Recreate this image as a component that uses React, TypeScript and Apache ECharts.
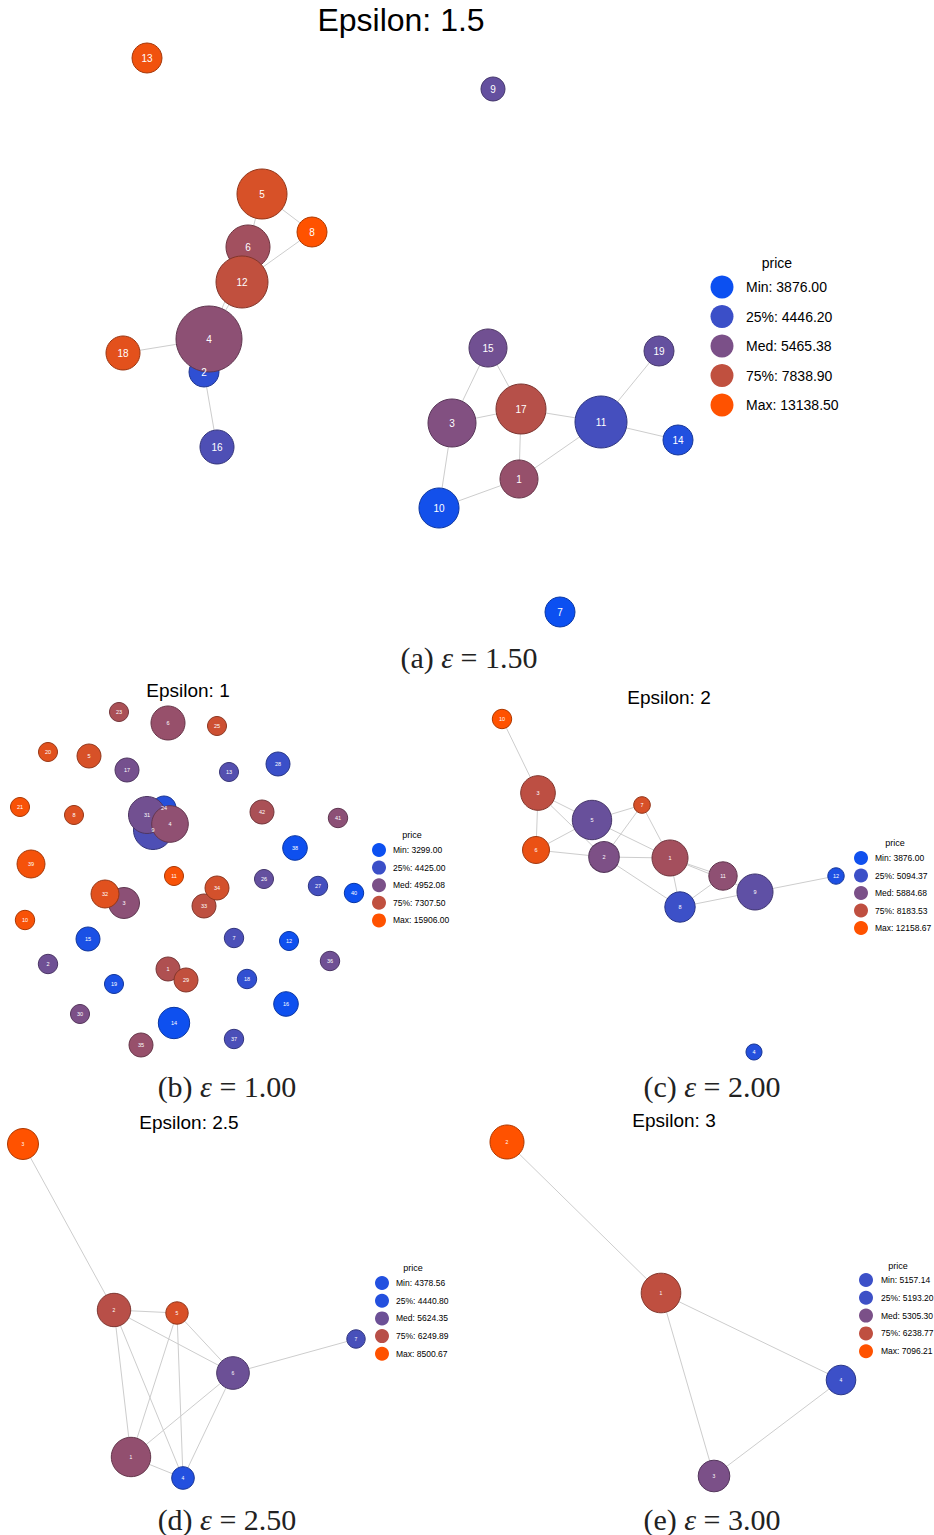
import React, { useEffect, useRef } from "react";
import * as echarts from "echarts";

const quantileNames = ["Min", "25%", "Med", "75%", "Max"];

// (a) epsilon 1.5
const aNodes = ["13","9","5","8","6","12","18","2","16","4","15","19","3","17","11","14","1","10","7"];
const aX = [147,493,262,312,248,242,123,204,217,209,488,659,452,521,601,678,519,439,560];
const aY = [58,89,194,232,247,282,353,372,447,339,348,351,423,409,422,440,479,508,612];
const aCount = [15,12,25,15,22,26,17,15,17,33,19,15,24,25,26,15,19,20,15];
const aPrice = [12000,5100,9800,13138.5,6800,7900,10800,4300,4750,6100,5300,5100,5700,7500,4600,4130,6400,3960,3876];
const aEdges = [["5","8"],["5","6"],["8","12"],["6","4"],["12","4"],["18","4"],["4","2"],["2","16"],["15","3"],["15","17"],["3","17"],["3","10"],["10","1"],["17","1"],["1","11"],["17","11"],["11","19"],["11","14"]];
const aQuant = [3876.0, 4446.2, 5465.38, 7838.9, 13138.5];

// (b) epsilon 1.0
const bNodes = ["23","6","25","20","5","17","13","28","21","8","9","24","31","4","42","41","38","39","11","26","27","40","3","32","33","34","10","15","7","12","2","36","1","29","19","18","16","30","14","37","35"];
const bX = [119,168,217,48,89,127,229,278,20,74,153,164,147,170,262,338,295,31,174,264,318,354,124,105,204,217,25,88,234,289,48,330,168,186,114,247,286,80,174,234,141];
const bY = [42,53,56,82,86,100,102,94,137,145,160,138,145,154,142,148,178,194,206,209,216,223,233,224,236,218,250,269,268,271,294,291,299,310,314,309,334,344,353,369,375];
const bCount = [9.5,17,9.5,9.5,12,12,9.5,12,9.5,9.5,19.5,12,18.5,18.3,12,9.7,12.3,14,9.5,9.5,9.7,9.7,15.5,14,12,12,9.7,12,9.7,9.5,9.7,9.7,12,12,9.5,9.7,12.3,9.5,15.7,9.7,12];
const bPrice = [6550,5900,9030,11800,10500,4900,4635,4400,15000,11200,4580,3920,4880,5660,6550,5540,3350,14500,15000,4760,4500,3299,5540,11800,7250,9900,15000,3640,4560,3350,4850,4850,6720,7500,3640,4180,3350,5000,3350,4560,5900];
const bEdges: string[][] = [];
const bQuant = [3299.0, 4425.0, 4952.08, 7307.5, 15906.0];

// (c) epsilon 2.0
const cNodes = ["10","3","7","5","6","2","1","11","9","8","12","4"];
const cX = [35,71,175,125,69,137,203,256,288,213,369,287];
const cY = [49,123,135,150,180,187,188,206,222,237,206,382];
const cCount = [9.7,17.3,8.3,19.7,13.5,15.3,18,14.2,18,15.2,8.2,8];
const cPrice = [12158.67,8100,9650,5650,10900,5950,7270,6570,5530,5094,4240,4430];
const cEdges = [["10","3"],["3","6"],["3","5"],["3","2"],["5","7"],["5","6"],["5","1"],["7","2"],["7","1"],["6","2"],["2","1"],["2","8"],["1","8"],["1","11"],["1","9"],["8","11"],["8","9"],["9","12"]];
const cQuant = [3876.0, 5094.37, 5884.68, 8183.53, 12158.67];

// (d) epsilon 2.5
const dNodes = ["3","2","5","6","7","1","4"];
const dX = [23,114,177,233,356,131,183];
const dY = [44,210,213,273,239,357,378];
const dCount = [15.5,16.7,11.2,16.3,9.2,19.7,11.3];
const dPrice = [8500.67,6250,7260,5624.35,5030,5940,4400];
const dEdges = [["3","2"],["2","5"],["2","6"],["2","1"],["2","4"],["5","1"],["5","4"],["5","6"],["6","7"],["6","1"],["6","4"],["1","4"]];
const dQuant = [4378.56, 4440.8, 5624.35, 6249.89, 8500.67];

// (e) epsilon 3.0
const eNodes = ["2","1","4","3"];
const eX = [40,194,374,247];
const eY = [42,193,280,376];
const eCount = [17,19.8,14.8,15.8];
const ePrice = [7096.21,6238.77,5157.14,5305.3];
const eEdges = [["2","1"],["1","4"],["1","3"],["3","4"]];
const eQuant = [5157.14, 5193.2, 5305.3, 6238.77, 7096.21];

const SANS = '"Liberation Sans", Arial, Helvetica, sans-serif';
const SERIF = '"Liberation Serif", "DejaVu Serif", serif';

const panels = [
  {
    nodes: aNodes, x: aX, y: aY, count: aCount, price: aPrice, edges: aEdges, quant: aQuant,
    colors: ["#0c50f1", "#3b4fc8", "#7b5088", "#c0503f", "#ff5200"],
    left: 0, top: 0, width: 934, height: 650, labelFont: 10,
    title: { text: "Epsilon: 1.5", x: 401, y: 20, size: 32 },
    legend: { titleX: 777, titleY: 263, titleFont: 14, cx: 722, cy: 287, step: 29.5, r: 11.5, tx: 746, font: 14 },
    caption: { tag: "(a)", val: "1.50", x: 469, y: 657 },
  },
  {
    nodes: bNodes, x: bX, y: bY, count: bCount, price: bPrice, edges: bEdges, quant: bQuant,
    colors: ["#0c50f1", "#3b4fc8", "#7b5088", "#c0503f", "#ff5200"],
    left: 0, top: 670, width: 467, height: 430, labelFont: 5.5,
    title: { text: "Epsilon: 1", x: 188, y: 690, size: 19 },
    legend: { titleX: 412, titleY: 835, titleFont: 9, cx: 379, cy: 850, step: 17.6, r: 7, tx: 393, font: 8.5 },
    caption: { tag: "(b)", val: "1.00", x: 227, y: 1086 },
  },
  {
    nodes: cNodes, x: cX, y: cY, count: cCount, price: cPrice, edges: cEdges, quant: cQuant,
    colors: ["#1050ee", "#3c50c8", "#7b5088", "#bf4f40", "#ff5200"],
    left: 467, top: 670, width: 467, height: 430, labelFont: 5.5,
    title: { text: "Epsilon: 2", x: 669, y: 697, size: 19 },
    legend: { titleX: 895, titleY: 843, titleFont: 9, cx: 861, cy: 858, step: 17.5, r: 7, tx: 875, font: 8.5 },
    caption: { tag: "(c)", val: "2.00", x: 712, y: 1086 },
  },
  {
    nodes: dNodes, x: dX, y: dY, count: dCount, price: dPrice, edges: dEdges, quant: dQuant,
    colors: ["#2250e0", "#2450de", "#6c5096", "#b84f48", "#ff5200"],
    left: 0, top: 1100, width: 467, height: 435, labelFont: 5,
    title: { text: "Epsilon: 2.5", x: 189, y: 1122, size: 19 },
    legend: { titleX: 413, titleY: 1268, titleFont: 9, cx: 382, cy: 1283, step: 17.7, r: 7, tx: 396, font: 8.5 },
    caption: { tag: "(d)", val: "2.50", x: 227, y: 1519 },
  },
  {
    nodes: eNodes, x: eX, y: eY, count: eCount, price: ePrice, edges: eEdges, quant: eQuant,
    colors: ["#3c50c8", "#3d50c6", "#7b5088", "#bf4f40", "#ff5200"],
    left: 467, top: 1100, width: 467, height: 435, labelFont: 5,
    title: { text: "Epsilon: 3", x: 674, y: 1120, size: 19 },
    legend: { titleX: 898, titleY: 1266, titleFont: 9, cx: 866, cy: 1280, step: 17.8, r: 7, tx: 881, font: 8.5 },
    caption: { tag: "(e)", val: "3.00", x: 712, y: 1519 },
  },
];

function hexToRgb(h: string): number[] {
  const v = h.replace("#", "");
  return [parseInt(v.slice(0, 2), 16), parseInt(v.slice(2, 4), 16), parseInt(v.slice(4, 6), 16)];
}
function rgbStr(c: number[]): string {
  return `rgb(${c.map((v) => Math.round(Math.max(0, Math.min(255, v)))).join(",")})`;
}
function colorFor(price: number, stops: number[], colors: string[]): number[] {
  const cs = colors.map(hexToRgb);
  if (price <= stops[0]) return cs[0];
  for (let i = 0; i < stops.length - 1; i++) {
    if (price <= stops[i + 1]) {
      const span = stops[i + 1] - stops[i];
      const t = span > 0 ? (price - stops[i]) / span : 1;
      return cs[i].map((v, k) => v + (cs[i + 1][k] - v) * t);
    }
  }
  return cs[cs.length - 1];
}

function buildOption() {
  const graphic: any[] = [];
  panels.forEach((p) => {
    graphic.push({
      type: "text",
      style: {
        text: p.title.text, x: p.title.x, y: p.title.y, fill: "#000",
        fontSize: p.title.size, fontFamily: SANS, textAlign: "center",
        verticalAlign: "middle", textVerticalAlign: "middle",
      },
    });
    const L = p.legend;
    graphic.push({
      type: "text",
      style: {
        text: "price", x: L.titleX, y: L.titleY, fill: "#000", fontSize: L.titleFont,
        fontFamily: SANS, textAlign: "center", verticalAlign: "middle", textVerticalAlign: "middle",
      },
    });
    p.quant.forEach((q, i) => {
      graphic.push({
        type: "circle",
        shape: { cx: L.cx, cy: L.cy + i * L.step, r: L.r },
        style: { fill: p.colors[i] },
      });
      graphic.push({
        type: "text",
        style: {
          text: `${quantileNames[i]}: ${q.toFixed(2)}`, x: L.tx, y: L.cy + i * L.step,
          fill: "#000", fontSize: L.font, fontFamily: SANS, textAlign: "left",
          verticalAlign: "middle", textVerticalAlign: "middle",
        },
      });
    });
    graphic.push({
      type: "text",
      style: {
        text: `${p.caption.tag} {e|ε} = ${p.caption.val}`,
        x: p.caption.x, y: p.caption.y, fill: "#222", fontSize: 30, fontFamily: SERIF,
        textAlign: "center", verticalAlign: "middle", textVerticalAlign: "middle",
        rich: { e: { fontStyle: "italic", fontSize: 30, fontFamily: SERIF, fill: "#222" } },
      },
    });
  });

  return {
    animation: false,
    backgroundColor: "#fff",
    grid: panels.map((p) => ({ left: p.left, top: p.top, width: p.width, height: p.height, show: false })),
    xAxis: panels.map((p, i) => ({ type: "value", gridIndex: i, min: 0, max: p.width, show: false })),
    yAxis: panels.map((p, i) => ({ type: "value", gridIndex: i, min: 0, max: p.height, inverse: true, show: false })),
    series: panels.map((p, i) => ({
      type: "graph",
      coordinateSystem: "cartesian2d",
      xAxisIndex: i,
      yAxisIndex: i,
      layout: "none",
      roam: false,
      data: p.nodes.map((n, k) => {
        const c = colorFor(p.price[k], p.quant, p.colors);
        return {
          name: n,
          value: [p.x[k], p.y[k]],
          symbolSize: 2 * p.count[k],
          itemStyle: { color: rgbStr(c), borderColor: rgbStr(c.map((v) => v * 0.68)), borderWidth: 1 },
        };
      }),
      links: p.edges.map(([s, t]) => ({ source: s, target: t })),
      lineStyle: { color: "#cdcdcd", width: 1, opacity: 1, curveness: 0 },
      label: {
        show: true, position: "inside", formatter: "{b}", color: "#fff",
        fontSize: p.labelFont, fontFamily: SANS,
      },
      emphasis: { disabled: true },
    })),
    graphic,
  };
}

export default function App() {
  const ref = useRef<HTMLDivElement>(null);
  useEffect(() => {
    if (!ref.current) return;
    const chart = echarts.init(ref.current, undefined, { renderer: "svg" });
    chart.setOption(buildOption() as any);
    return () => chart.dispose();
  }, []);
  return (
    <div
      ref={ref}
      style={{ position: "absolute", left: 0, top: 0, width: 934, height: 1535, background: "#fff" }}
    />
  );
}
